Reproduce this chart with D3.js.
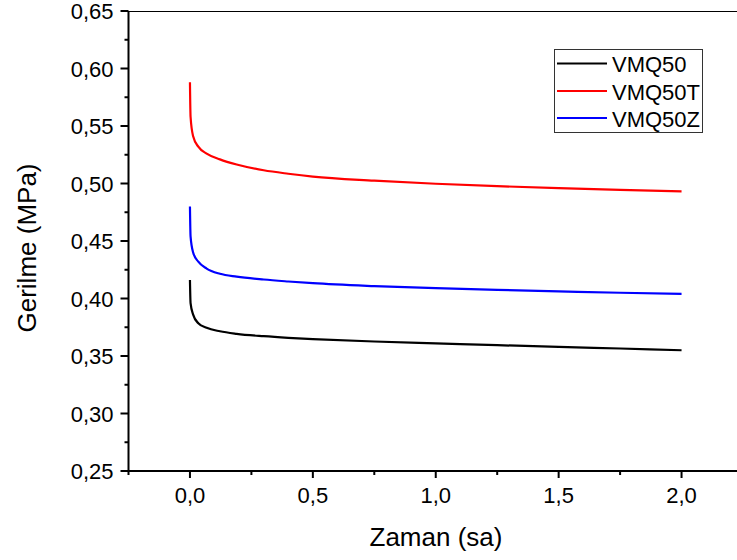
<!DOCTYPE html>
<html>
<head>
<meta charset="utf-8">
<script src="https://cdn.jsdelivr.net/npm/d3@7"></script>
<style>
  html, body { margin: 0; padding: 0; background: #fff; overflow: hidden; }
  svg { display: block; font-family: "Liberation Sans", Arial, sans-serif; }
</style>
</head>
<body>
<svg id="chart" width="737" height="560"></svg>
<script>
// Stress relaxation over time for three compounds
const time   = [0, 0.0025, 0.013, 0.034, 0.068, 0.122, 0.19, 0.3, 0.4, 0.5, 0.75, 1.0, 1.25, 1.5, 1.75, 2.0];
const vmq50  = [0.416, 0.396, 0.386, 0.3785, 0.3745, 0.3715, 0.3693, 0.3672, 0.3658, 0.3647, 0.3626, 0.361, 0.3594, 0.358, 0.3565, 0.355];
const vmq50T = [0.588, 0.558, 0.541, 0.532, 0.526, 0.521, 0.5165, 0.5115, 0.5085, 0.506, 0.5025, 0.4998, 0.4977, 0.496, 0.4945, 0.4932];
const vmq50Z = [0.480, 0.454, 0.440, 0.432, 0.426, 0.4215, 0.419, 0.4165, 0.4148, 0.4133, 0.4108, 0.409, 0.4075, 0.4062, 0.405, 0.404];

const seriesNames = ["VMQ50", "VMQ50T", "VMQ50Z"];
const seriesColors = ["#000000", "#ff0000", "#0000ff"];
const seriesValues = [vmq50, vmq50T, vmq50Z];

const xTicks = [0, 0.5, 1.0, 1.5, 2.0];
const yTicks = [0.25, 0.30, 0.35, 0.40, 0.45, 0.50, 0.55, 0.60, 0.65];
const xTitle = "Zaman (sa)";
const yTitle = "Gerilme (MPa)";

const svg = d3.select("#chart");
const plotLeft = 128.5, plotTop = 11, plotRight = 743, plotBottom = 471;

const x = d3.scaleLinear().domain([-0.25, 2.25]).range([plotLeft, plotRight]);
const y = d3.scaleLinear().domain([0.25, 0.65]).range([plotBottom, plotTop]);

const fmt = d => d3.format(".1f")(d).replace(".", ",");
const fmtY = d => d3.format(".2f")(d).replace(".", ",");

// frame (top and right edges)
svg.append("line").attr("x1", plotLeft).attr("x2", plotRight).attr("y1", plotTop + 0.5).attr("y2", plotTop + 0.5)
  .attr("stroke", "#000").attr("stroke-width", 1);
svg.append("line").attr("x1", plotRight).attr("x2", plotRight).attr("y1", plotTop).attr("y2", plotBottom)
  .attr("stroke", "#000").attr("stroke-width", 1);

// curves
const line = d3.line()
  .x((d, i) => x(time[i]))
  .y(d => y(d))
  .curve(d3.curveMonotoneX);

seriesValues.forEach((vals, k) => {
  svg.append("path")
    .datum(vals)
    .attr("fill", "none")
    .attr("stroke", seriesColors[k])
    .attr("stroke-width", 2.2)
    .attr("stroke-linejoin", "round")
    .attr("d", line);
});

// minor ticks
const xMinor = d3.range(-0.25, 2.26, 0.25).filter(v => !xTicks.some(t => Math.abs(t - v) < 1e-9));
const yMinor = d3.range(0.275, 0.65, 0.05);

// x axis
const xAxis = svg.append("g").attr("transform", `translate(0,${plotBottom})`);
xAxis.append("line").attr("x1", plotLeft - 1).attr("x2", plotRight).attr("stroke", "#000").attr("stroke-width", 2);
xAxis.selectAll(".maj").data(xTicks).enter().append("line")
  .attr("x1", d => x(d)).attr("x2", d => x(d)).attr("y1", 0).attr("y2", 7)
  .attr("stroke", "#000").attr("stroke-width", 2);
xAxis.selectAll(".min").data(xMinor).enter().append("line")
  .attr("x1", d => x(d)).attr("x2", d => x(d)).attr("y1", 0).attr("y2", 4)
  .attr("stroke", "#000").attr("stroke-width", 2);
xAxis.selectAll("text").data(xTicks).enter().append("text")
  .attr("x", d => x(d)).attr("y", 32)
  .attr("text-anchor", "middle").attr("font-size", 22).attr("fill", "#000")
  .text(fmt);

// y axis
const yAxis = svg.append("g").attr("transform", `translate(${plotLeft},0)`);
yAxis.append("line").attr("y1", plotTop).attr("y2", plotBottom + 1).attr("stroke", "#000").attr("stroke-width", 2);
yAxis.selectAll(".maj").data(yTicks).enter().append("line")
  .attr("y1", d => y(d)).attr("y2", d => y(d)).attr("x1", 0).attr("x2", -8)
  .attr("stroke", "#000").attr("stroke-width", 2);
yAxis.selectAll(".min").data(yMinor).enter().append("line")
  .attr("y1", d => y(d)).attr("y2", d => y(d)).attr("x1", 0).attr("x2", -4)
  .attr("stroke", "#000").attr("stroke-width", 2);
yAxis.selectAll("text").data(yTicks).enter().append("text")
  .attr("x", -15).attr("y", d => y(d) + 8)
  .attr("text-anchor", "end").attr("font-size", 22).attr("fill", "#000")
  .text(fmtY);

// axis titles
svg.append("text").attr("x", 436).attr("y", 546)
  .attr("text-anchor", "middle").attr("font-size", 26).attr("fill", "#000")
  .text(xTitle);
svg.append("text").attr("transform", "translate(36,248) rotate(-90)")
  .attr("text-anchor", "middle").attr("font-size", 26).attr("fill", "#000")
  .text(yTitle);

// legend
const lg = svg.append("g");
lg.append("rect").attr("x", 554.5).attr("y", 49.5).attr("width", 148).attr("height", 83)
  .attr("fill", "#fff").attr("stroke", "#333").attr("stroke-width", 1);
const rowY = [63.5, 91, 118];
seriesNames.forEach((name, k) => {
  lg.append("line").attr("x1", 557).attr("x2", 607).attr("y1", rowY[k]).attr("y2", rowY[k])
    .attr("stroke", seriesColors[k]).attr("stroke-width", 2);
  lg.append("text").attr("x", 612).attr("y", rowY[k] + 8.5)
    .attr("font-size", 22).attr("fill", "#000").text(name);
});
</script>
</body>
</html>
